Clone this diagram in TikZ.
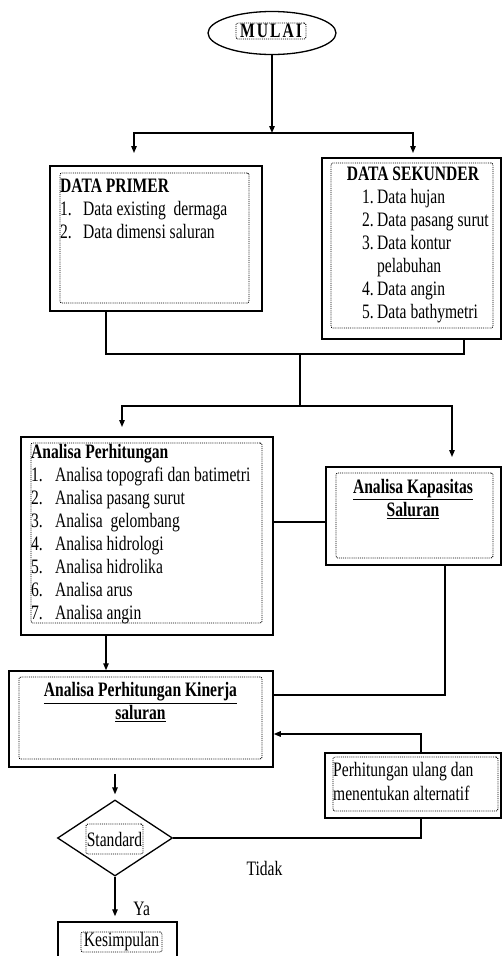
\documentclass[tikz,border=0pt]{standalone}
\usepackage{fontspec}
\setmainfont{Liberation Serif}[FakeStretch=0.76]
\usetikzlibrary{shapes.geometric,arrows.meta}
\tikzset{
  outerbox/.style={draw=black, line width=1.5pt, rectangle, inner sep=0pt},
  dotbox/.style={draw=black, densely dotted, line width=0.9pt, rectangle, rounded corners=2pt, inner sep=0pt},
  txt/.style={inner sep=0pt, font=\fontsize{20.5}{23}\selectfont},
  conn/.style={draw=black, line width=1.3pt},
  arr/.style={conn, -{Triangle[length=7pt,width=5.5pt]}},
}
\begin{document}
\begin{tikzpicture}[x=1pt,y=-1pt]
\useasboundingbox (0,0) rectangle (502,956);
\clip (0,0) rectangle (502,956);
% start
\node[ellipse, draw=black, line width=1.3pt, minimum width=128pt, minimum height=43pt, inner sep=0pt] (start) at (272,33) {};
\node[dotbox, txt, minimum width=70pt, minimum height=16pt] (startlbl) at (271,31) {\textbf{M\hspace{2pt}U\hspace{2pt}L\hspace{2pt}A\hspace{2pt}I}};
% boxes
\node[outerbox, minimum width=212pt, minimum height=145pt] (primer) at (156,238.5) {};
\node[dotbox, minimum width=189pt, minimum height=130pt] (primerin) at (154.5,238) {};
\node[outerbox, minimum width=179pt, minimum height=181pt] (sek) at (411.5,248.5) {};
\node[dotbox, minimum width=162pt, minimum height=165pt] (sekin) at (412,245.5) {};
\node[outerbox, minimum width=252pt, minimum height=198pt] (ap) at (147,536) {};
\node[dotbox, minimum width=231pt, minimum height=180pt] (apin) at (146.5,533) {};
\node[outerbox, minimum width=175pt, minimum height=98pt] (kap) at (413.5,516) {};
\node[dotbox, minimum width=157pt, minimum height=85pt] (kapin) at (414.5,515.5) {};
\node[outerbox, minimum width=264pt, minimum height=96pt] (kin) at (141,719) {};
\node[dotbox, minimum width=243pt, minimum height=82pt] (kinin) at (140.5,718) {};
\node[outerbox, minimum width=176pt, minimum height=65pt] (pu) at (413,785.5) {};
\node[dotbox, minimum width=165pt, minimum height=54pt] (puin) at (415.5,784) {};
\node[diamond, draw=black, line width=1.3pt, minimum width=115pt, minimum height=76pt, inner sep=0pt] (dia) at (115,838) {};
\node[dotbox, txt, minimum width=57pt, minimum height=30pt] (dialbl) at (114.5,839) {Standard};
\node[outerbox, minimum width=119pt, minimum height=63pt] (kes) at (117.5,953.5) {};
\node[dotbox, txt, minimum width=81pt, minimum height=20pt] (keslbl) at (121.5,942) {Kesimpulan};
% texts
\node[txt, anchor=north west] (primertxt) at (60,176.4) {\begin{tabular}{@{}p{23pt}@{}l@{}}\multicolumn{2}{@{}l@{}}{\textbf{DATA PRIMER}}\\ 1. & Data existing\ \ dermaga\\ 2. & Data dimensi saluran\end{tabular}};
\node[txt, anchor=base] (sektitle) at (413,180) {\textbf{DATA SEKUNDER}};
\node[txt, anchor=north west] (sektxt) at (362,186.9) {\begin{tabular}{@{}p{15pt}@{}l@{}}1. & Data hujan\\ 2. & Data pasang surut\\ 3. & Data kontur\\ & pelabuhan\\ 4. & Data angin\\ 5. & Data bathymetri\end{tabular}};
\node[txt, anchor=north west] (aptxt) at (31,441.9) {\begin{tabular}{@{}p{24pt}@{}l@{}}\multicolumn{2}{@{}l@{}}{\textbf{Analisa Perhitungan}}\\ 1. & Analisa topografi dan batimetri\\ 2. & Analisa pasang surut\\ 3. & Analisa\ \ gelombang\\ 4. & Analisa hidrologi\\ 5. & Analisa hidrolika\\ 6. & Analisa arus\\ 7. & Analisa angin\end{tabular}};
\node[txt, anchor=north] (kaptxt) at (413,476.9) {\begin{tabular}{@{}c@{}}\underline{\textbf{Analisa Kapasitas}}\\ \underline{\textbf{Saluran}}\end{tabular}};
\node[txt, anchor=north] (kintxt) at (140.5,680.6) {\begin{tabular}{@{}c@{}}\underline{\textbf{Analisa Perhitungan Kinerja}}\\ \underline{\textbf{saluran}}\end{tabular}};
\node[txt, font=\fontsize{20.5}{24.7}\selectfont, anchor=north west] (putxt) at (333,758.7) {\begin{tabular}{@{}l@{}}Perhitungan ulang dan\\ menentukan alternatif\end{tabular}};
\node[txt, anchor=base] (tidak) at (264.5,875) {Tidak};
\node[txt, anchor=base] (ya) at (141.7,915.7) {Ya};
% connectors
\coordinate (j1) at (272,133);
\coordinate (a1) at (134,153);
\coordinate (a2) at (413,153);
\draw[arr] (start) -- (j1);
\draw[arr] (j1) -| (a1);
\draw[arr] (j1) -| (a2);
\coordinate (c1) at (106,354);
\coordinate (c2) at (464,354);
\coordinate (j2) at (300,354);
\coordinate (j3) at (300,406);
\draw[conn] (c1 |- primer.south) -- (c1) -- (c2) -- (c2 |- sek.south);
\draw[conn] (j2) -- (j3);
\coordinate (a3) at (122,427);
\coordinate (a4) at (452,457);
\draw[arr] (j3) -| (a3);
\draw[arr] (j3) -| (a4);
\coordinate (l1) at (300,522);
\draw[conn] (ap.east |- l1) -- (kap.west |- l1);
\coordinate (c3) at (445,695);
\draw[conn] (c3 |- kap.south) -- (c3) -- (kin.east |- c3);
\coordinate (c4) at (106,650);
\draw[arr] (c4 |- ap.south) -- (c4 |- kin.north);
\coordinate (c5) at (421,734);
\draw[arr] (c5 |- pu.north) -- (c5) -- (kin.east |- c5);
\draw[arr, shorten <=6pt, shorten >=5pt] (dia.north |- kin.south) -- (dia.north);
\draw[conn] (dia.east) -| (c5 |- pu.south);
\draw[arr, shorten >=5pt] (dia.south) -- (dia.south |- kes.north);
\end{tikzpicture}
\end{document}
